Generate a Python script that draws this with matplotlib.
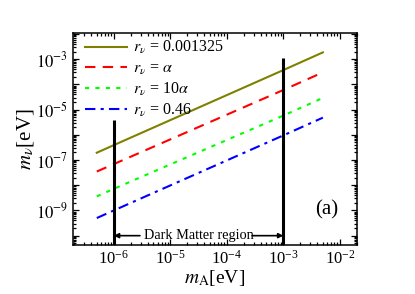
import numpy as np
import matplotlib
matplotlib.use("Agg")
import matplotlib.pyplot as plt
from matplotlib.ticker import LogLocator, FuncFormatter

plt.rcParams['font.family'] = ['Liberation Serif', 'DejaVu Serif']
plt.rcParams['mathtext.fontset'] = 'stix'

m_A = [5e-7, 1e-6, 1e-3, 5e-3]
# m_nu (eV) for each r_nu
m_nu_olive = [1.95e-7, 3.9e-7, 3.7e-4, 1.86e-3]
m_nu_red = [3.5e-8, 6.9e-8, 6.0e-5, 3.0e-4]
m_nu_green = [3.6e-9, 7.2e-9, 5.8e-6, 2.9e-5]
m_nu_blue = [5.0e-10, 1.0e-9, 9.5e-7, 4.8e-6]
labels = [r'$r_{\nu}$ = 0.001325', r'$r_{\nu}$ = $\alpha$',
          r'$r_{\nu}$ = 10$\alpha$', r'$r_{\nu}$ = 0.46']

# dark matter window
dm_lo, dm_hi = 1e-6, 1e-3
dm_top_lo, dm_top_hi = 3.7e-6, 1.1e-3

fig = plt.figure(figsize=(4.15, 2.94), dpi=100)
ax = fig.add_axes([0.176, 0.167, 0.684, 0.721])

ax.plot(m_A, m_nu_olive, color='#808000', lw=1.5, ls='-', label=labels[0])
ax.plot(m_A, m_nu_red, color='red', lw=1.5, ls=(0, (5, 3.5)), label=labels[1])
ax.plot(m_A, m_nu_green, color='#00ff00', lw=1.5, ls=(0, (2, 3)), label=labels[2])
ax.plot(m_A, m_nu_blue, color='blue', lw=1.5, ls=(0, (5, 2.5, 1.5, 2.5)), label=labels[3])

ax.set_xscale('log')
ax.set_yscale('log')
ax.set_xlim(1.9e-7, 2e-2)
ax.set_ylim(4.3e-11, 1.1e-2)

ax.vlines(dm_lo, 1e-12, dm_top_lo, color='black', lw=2.2)
ax.vlines(dm_hi, 1e-12, dm_top_hi, color='black', lw=2.2)

ax.text(np.sqrt(dm_lo*dm_hi), 1e-10, 'Dark Matter region', fontsize=10.3,
        ha='center', va='center')
ax.annotate('', xy=(dm_lo, 1e-10), xytext=(2.9e-6, 1e-10),
            arrowprops=dict(arrowstyle='-|>', color='black', lw=1.2,
                            mutation_scale=7, shrinkA=0, shrinkB=0))
ax.annotate('', xy=(dm_hi, 1e-10), xytext=(2.8e-4, 1e-10),
            arrowprops=dict(arrowstyle='-|>', color='black', lw=1.2,
                            mutation_scale=7, shrinkA=0, shrinkB=0))

ax.text(0.894, 0.165, '(a)', transform=ax.transAxes, fontsize=15,
        ha='center', va='center')

ax.set_xlabel(r'$m_{\mathrm{A}}$[eV]', fontsize=14, labelpad=0)
ax.set_ylabel(r'$m_{\nu}$[eV]', fontsize=15, labelpad=0)

ax.xaxis.set_major_locator(LogLocator(base=10, numticks=20))
ax.xaxis.set_minor_locator(LogLocator(base=10, subs=np.arange(2, 10), numticks=100))
ax.yaxis.set_major_locator(LogLocator(base=10, subs=(1.0,), numticks=30))
ax.yaxis.set_minor_locator(LogLocator(base=10, subs=np.arange(2, 10), numticks=100))

def ylab(v, pos):
    e = int(round(np.log10(v)))
    if e % 2 == 0:
        return ''
    return r'$10^{%d}$' % e

ax.yaxis.set_major_formatter(FuncFormatter(ylab))

ax.tick_params(which='both', direction='in', top=True, right=True,
               labelsize=12, width=0.9)
ax.tick_params(which='major', length=4)
ax.tick_params(which='minor', length=2)
for s in ax.spines.values():
    s.set_linewidth(1.1)

ax.legend(loc='upper left', frameon=False, fontsize=11.5, handlelength=2.6,
          labelspacing=0.25, borderaxespad=0.2, handletextpad=0.4,
          borderpad=0.2, bbox_to_anchor=(0.02, 1.0))

fig.savefig('out.png', dpi=100)
